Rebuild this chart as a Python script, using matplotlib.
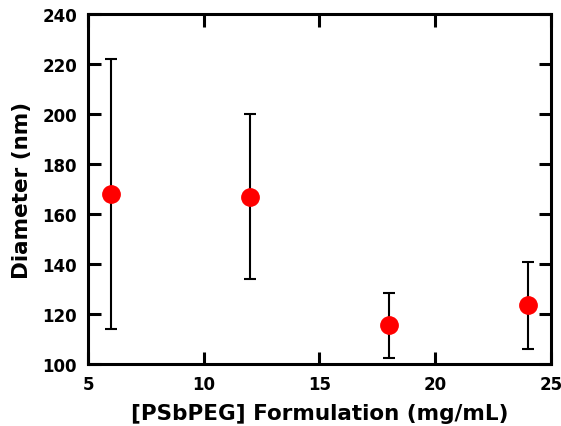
import matplotlib
matplotlib.use("Agg")
import matplotlib.pyplot as plt

# PSbPEG formulation concentration vs particle diameter
conc = [6, 12, 18, 24]
diameter = [168, 167, 115.5, 123.5]
diameter_err = [54, 33, 13, 17.5]

plt.rcParams['font.family'] = 'DejaVu Sans'
plt.rcParams['font.weight'] = 'bold'

fig = plt.figure(figsize=(5.61, 4.27), dpi=100)
ax = fig.add_axes([0.157, 0.145, 0.825, 0.82])

ax.errorbar(conc, diameter, yerr=diameter_err, fmt='none', ecolor='black',
            elinewidth=1.5, capsize=4.5, capthick=1.5, zorder=2)
ax.plot(conc, diameter, 'o', color='red', markersize=12.5, zorder=3)

ax.set_xlim(5, 25)
ax.set_ylim(100, 240)
ax.set_xticks([5, 10, 15, 20, 25])
ax.set_yticks(range(100, 241, 20))

for s in ax.spines.values():
    s.set_linewidth(2.2)
ax.tick_params(direction='in', length=9, width=2.2, top=True, right=True,
               labelsize=12, pad=8)
for lab in ax.get_xticklabels() + ax.get_yticklabels():
    lab.set_fontweight('bold')

ax.set_xlabel('[PSbPEG] Formulation (mg/mL)', fontsize=15.5, fontweight='bold', labelpad=7)
ax.set_ylabel('Diameter (nm)', fontsize=15.5, fontweight='bold', labelpad=7)

fig.savefig('out.png', dpi=100)
